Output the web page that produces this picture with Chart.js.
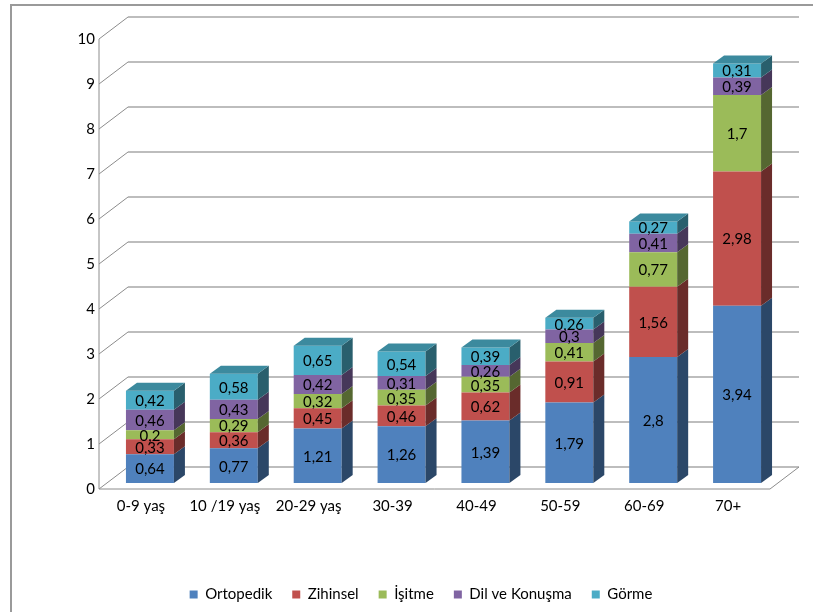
<!DOCTYPE html>
<html>
<head>
<meta charset="utf-8">
<script src="https://cdn.jsdelivr.net/npm/chart.js@4.4.0/dist/chart.umd.min.js"></script>
<style>
  body { margin: 0; background: #fff; }
</style>
</head>
<body>
<canvas id="engelliChart" width="813" height="612"></canvas>
<script>
// age groups (x axis)
const ageGroups = ['0-9 yaş', '10 /19 yaş', '20-29 yaş', '30-39', '40-49', '50-59', '60-69', '70+'];

// series values
const ortopedik = [0.64, 0.77, 1.21, 1.26, 1.39, 1.79, 2.8, 3.94];
const zihinsel = [0.33, 0.36, 0.45, 0.46, 0.62, 0.91, 1.56, 2.98];
const isitme = [0.2, 0.29, 0.32, 0.35, 0.35, 0.41, 0.77, 1.7];
const dilKonusma = [0.46, 0.43, 0.42, 0.31, 0.26, 0.3, 0.41, 0.39];
const gorme = [0.42, 0.58, 0.65, 0.54, 0.39, 0.26, 0.27, 0.31];

const seriesNames = ['Ortopedik', 'Zihinsel', 'İşitme', 'Dil ve Konuşma', 'Görme'];
const seriesColors = ['#4F81BD', '#C0504D', '#9BBB59', '#8064A2', '#4BACC6'];

// y axis ticks
const yMin = 0;
const yMax = 10;
const yStep = 1;

// 3D look
const BAR_DX = 9, BAR_DY = -6;     // bar front face sits behind the floor edge
const DEPTH_X = 11, DEPTH_Y = -8;  // bar depth
const WALL_X = 29, WALL_Y = -22;   // back wall offset
const FONT = 'Lato, "DejaVu Sans", sans-serif';
const FONT_SIZE = 15;

function shade(hex, f) {
    const n = parseInt(hex.slice(1), 16);
    const r = Math.round(((n >> 16) & 255) * f);
    const g = Math.round(((n >> 8) & 255) * f);
    const b = Math.round((n & 255) * f);
    return `rgb(${r}, ${g}, ${b})`;
}

function fmt(v) {
    return String(v).replace('.', ',');
}

const depthPlugin = {
    id: 'depth3d',
    beforeDraw(chart) {
        const ctx = chart.ctx;
        ctx.save();
        ctx.strokeStyle = '#9a9a9a';
        ctx.lineWidth = 2;
        ctx.strokeRect(11, 5, 900, 700);
        ctx.restore();
    },
    beforeDatasetsDraw(chart) {
        const ctx = chart.ctx;
        const area = chart.chartArea;
        const yScale = chart.scales.y;
        ctx.save();
        yScale.ticks.forEach(t => {
            const y = yScale.getPixelForValue(t.value);
            // side wall diagonal
            ctx.strokeStyle = '#8c8c8c';
            ctx.lineWidth = 1;
            ctx.beginPath();
            ctx.moveTo(area.left, y);
            ctx.lineTo(area.left + WALL_X, y + WALL_Y);
            ctx.stroke();
            // back wall line
            ctx.strokeStyle = '#bdbdbd';
            ctx.lineWidth = 2;
            ctx.beginPath();
            ctx.moveTo(area.left + WALL_X, y + WALL_Y);
            ctx.lineTo(area.right + WALL_X, y + WALL_Y);
            ctx.stroke();
        });
        // floor
        ctx.strokeStyle = '#8c8c8c';
        ctx.lineWidth = 1;
        ctx.beginPath();
        ctx.moveTo(area.left, area.bottom);
        ctx.lineTo(area.right, area.bottom);
        ctx.lineTo(area.right + WALL_X, area.bottom + WALL_Y);
        ctx.stroke();
        // front axis
        ctx.beginPath();
        ctx.moveTo(area.left, area.top);
        ctx.lineTo(area.left, area.bottom);
        ctx.stroke();
        ctx.restore();

        ctx.save();
        ctx.translate(BAR_DX, BAR_DY);
    },
    afterDatasetsDraw(chart) {
        const ctx = chart.ctx;
        const last = chart.data.datasets.length - 1;
        chart.data.datasets.forEach((ds, di) => {
            const meta = chart.getDatasetMeta(di);
            meta.data.forEach(bar => {
                const p = bar.getProps(['x', 'y', 'base', 'width'], true);
                const x0 = p.x - p.width / 2;
                const x1 = p.x + p.width / 2;
                // right side face
                ctx.fillStyle = shade(ds.backgroundColor, 0.55);
                ctx.beginPath();
                ctx.moveTo(x1, p.y);
                ctx.lineTo(x1 + DEPTH_X, p.y + DEPTH_Y);
                ctx.lineTo(x1 + DEPTH_X, p.base + DEPTH_Y);
                ctx.lineTo(x1, p.base);
                ctx.closePath();
                ctx.fill();
                // top face on the highest segment
                if (di === last) {
                    ctx.fillStyle = shade(ds.backgroundColor, 0.8);
                    ctx.beginPath();
                    ctx.moveTo(x0, p.y);
                    ctx.lineTo(x0 + DEPTH_X, p.y + DEPTH_Y);
                    ctx.lineTo(x1 + DEPTH_X, p.y + DEPTH_Y);
                    ctx.lineTo(x1, p.y);
                    ctx.closePath();
                    ctx.fill();
                }
            });
        });
        // value labels
        ctx.fillStyle = '#000';
        ctx.font = FONT_SIZE + 'px ' + FONT;
        ctx.textAlign = 'center';
        ctx.textBaseline = 'middle';
        chart.data.datasets.forEach((ds, di) => {
            const meta = chart.getDatasetMeta(di);
            meta.data.forEach((bar, i) => {
                const p = bar.getProps(['x', 'y', 'base'], true);
                ctx.fillText(fmt(ds.data[i]), p.x, (p.y + p.base) / 2 + 1);
            });
        });
        ctx.restore();
    }
};

const seriesData = [ortopedik, zihinsel, isitme, dilKonusma, gorme];

new Chart(document.getElementById('engelliChart'), {
    type: 'bar',
    data: {
        labels: ageGroups,
        datasets: seriesNames.map((name, i) => ({
            label: name,
            data: seriesData[i],
            backgroundColor: seriesColors[i],
            borderWidth: 0,
            barPercentage: 0.572,
            categoryPercentage: 1,
            clip: false
        }))
    },
    options: {
        responsive: false,
        animation: false,
        layout: {
            padding: { left: 72, right: 43, top: 39, bottom: 0 }
        },
        scales: {
            x: {
                stacked: true,
                grid: { display: false, drawTicks: false },
                border: { display: false },
                ticks: { color: '#000', padding: 8, font: { family: FONT, size: FONT_SIZE } },
                afterFit(scale) { scale.height = 78; }
            },
            y: {
                stacked: true,
                min: yMin,
                max: yMax,
                grid: { display: false, drawTicks: false },
                border: { display: false },
                ticks: { stepSize: yStep, color: '#000', padding: 4, font: { family: FONT, size: FONT_SIZE } },
                afterFit(scale) { scale.width = 27; }
            }
        },
        plugins: {
            legend: {
                position: 'bottom',
                labels: {
                    boxWidth: 8,
                    boxHeight: 8,
                    padding: 20,
                    color: '#000',
                    font: { family: FONT, size: FONT_SIZE }
                }
            },
            tooltip: { enabled: false }
        }
    },
    plugins: [depthPlugin]
});
</script>
</body>
</html>
